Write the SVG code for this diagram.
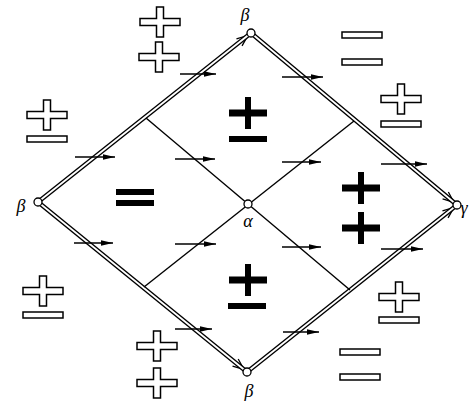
<svg xmlns="http://www.w3.org/2000/svg" xmlns:xlink="http://www.w3.org/1999/xlink" width="470" height="404" viewBox="0 0 470 404">
<style>
.edgeB{stroke:#000;stroke-width:4.6;fill:none}
.edgeW{stroke:#fff;stroke-width:1.8;fill:none}
.inner{stroke:#000;stroke-width:1.4;fill:none}
.harr{stroke:#000;stroke-width:1.5;fill:none}
.vtx{fill:#fff;stroke:#000;stroke-width:1.3}
.lbl{font-family:"Liberation Serif",serif;font-style:italic;font-size:18px;fill:#000}
.hollow{fill:#fff;stroke:#000;stroke-width:1.5}
.solid{fill:#000}
</style>
<defs>
<marker id="chev" markerUnits="userSpaceOnUse" orient="auto" refX="4" refY="0" overflow="visible">
<path d="M-11,-4.5 L0,0 L-11,4.5" fill="none" stroke="#000" stroke-width="1.3"/>
</marker>
<marker id="ah" markerUnits="userSpaceOnUse" orient="auto" refX="0" refY="0" overflow="visible">
<path d="M-12,-2.8 L0,0 L-12,2.8 Z" fill="#000"/>
</marker>
<path id="hplus" class="hollow" d="M-20,-3.5 H-3.5 V-15 H3.5 V-3.5 H20 V3.5 H3.5 V15 H-3.5 V3.5 H-20 Z"/>
<rect id="hminus" class="hollow" x="-20" y="-3" width="40" height="6"/>
<path id="splus" class="solid" d="M-19,-3.5 H-3 V-16 H3 V-3.5 H19 V3.5 H3 V16 H-3 V3.5 H-19 Z"/>
<rect id="sminus" class="solid" x="-19" y="-3" width="38" height="6"/>
</defs>

<g id="connectors">
<path class="edgeB" d="M38,202 L251,33" marker-end="url(#chev)"/>
<path class="edgeB" d="M38,202 L247,372" marker-end="url(#chev)"/>
<path class="edgeB" d="M251,33 L457,205" marker-end="url(#chev)"/>
<path class="edgeB" d="M247,372 L457,205" marker-end="url(#chev)"/>
<path class="edgeW" d="M38,202 L251,33 L457,205 L247,372 Z"/>
<path class="inner" d="M146,118 L350,290"/>
<path class="inner" d="M144,287 L354,121"/>
<path class="harr" marker-end="url(#ah)" d="M180,74 H216"/>
<path class="harr" marker-end="url(#ah)" d="M75,157 H115"/>
<path class="harr" marker-end="url(#ah)" d="M175,159 H215"/>
<path class="harr" marker-end="url(#ah)" d="M282,77 H323"/>
<path class="harr" marker-end="url(#ah)" d="M282,162 H321"/>
<path class="harr" marker-end="url(#ah)" d="M381,164 H427"/>
<path class="harr" marker-end="url(#ah)" d="M74,243 H113"/>
<path class="harr" marker-end="url(#ah)" d="M175,244 H216"/>
<path class="harr" marker-end="url(#ah)" d="M175,329 H212"/>
<path class="harr" marker-end="url(#ah)" d="M282,247 H321"/>
<path class="harr" marker-end="url(#ah)" d="M381,249 H423"/>
<path class="harr" marker-end="url(#ah)" d="M283,332 H319"/>
</g>

<g id="node-left"><circle class="vtx" cx="38" cy="202" r="4"/><text class="lbl" x="21" y="212" text-anchor="middle">β</text></g>
<g id="node-top"><circle class="vtx" cx="251" cy="33" r="4"/><text class="lbl" x="245" y="21" text-anchor="middle">β</text></g>
<g id="node-bottom"><circle class="vtx" cx="247" cy="372" r="4"/><text class="lbl" x="249" y="397" text-anchor="middle">β</text></g>
<g id="node-right"><circle class="vtx" cx="457" cy="205" r="4"/><text class="lbl" x="464" y="214" text-anchor="middle" font-size="14">γ</text></g>
<g id="node-center"><circle class="vtx" cx="248" cy="204" r="4"/><text class="lbl" x="248" y="227" text-anchor="middle">α</text></g>

<g id="signs-outer">
<use xlink:href="#hplus" x="160" y="22"/>
<use xlink:href="#hplus" x="159" y="57"/>
<use xlink:href="#hplus" x="47" y="115"/>
<use xlink:href="#hminus" x="47" y="139"/>
<use xlink:href="#hminus" x="362" y="35"/>
<use xlink:href="#hminus" x="362" y="62"/>
<use xlink:href="#hplus" x="401" y="99"/>
<use xlink:href="#hminus" x="401" y="124"/>
<use xlink:href="#hplus" x="43" y="291"/>
<use xlink:href="#hminus" x="43" y="315"/>
<use xlink:href="#hplus" x="157" y="346"/>
<use xlink:href="#hplus" x="157" y="383"/>
<use xlink:href="#hplus" x="399" y="297"/>
<use xlink:href="#hminus" x="399" y="320"/>
<use xlink:href="#hminus" x="360" y="352"/>
<use xlink:href="#hminus" x="360" y="377"/>
</g>

<g id="signs-inner">
<use xlink:href="#splus" x="248" y="113"/>
<use xlink:href="#sminus" x="248" y="139"/>
<use xlink:href="#sminus" x="135" y="192"/>
<use xlink:href="#sminus" x="135" y="203"/>
<use xlink:href="#splus" x="361" y="188"/>
<use xlink:href="#splus" x="361" y="228"/>
<use xlink:href="#splus" x="248" y="280"/>
<use xlink:href="#sminus" x="247" y="306"/>
</g>
</svg>
